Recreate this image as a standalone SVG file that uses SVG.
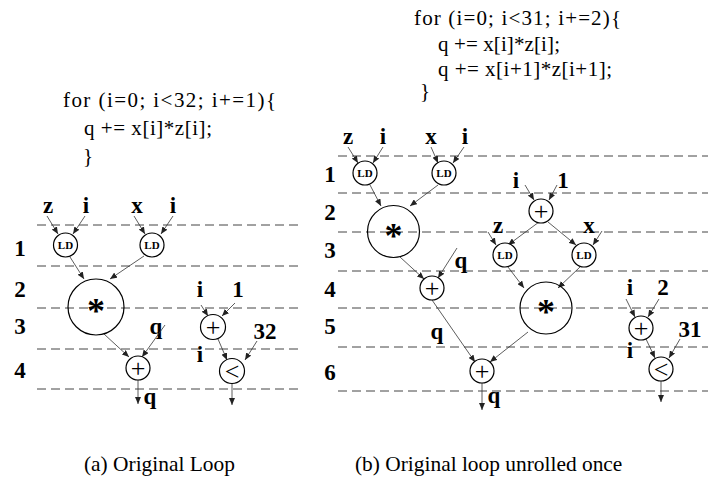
<svg xmlns="http://www.w3.org/2000/svg" width="708" height="481" viewBox="0 0 708 481" font-family="'Liberation Serif', 'Times New Roman', serif">
<style>
.code{font-family:"Liberation Serif","Times New Roman",serif;font-size:21px;fill:#000}
.cap{font-family:"Liberation Serif","Times New Roman",serif;font-size:21.4px;fill:#000}
.lb{font-family:"Liberation Serif","Times New Roman",serif;font-size:23px;font-weight:bold;fill:#000;text-anchor:middle}
.num{font-family:"Liberation Serif","Times New Roman",serif;font-size:23px;font-weight:bold;fill:#000;text-anchor:middle}
.nd{fill:#fff;stroke:#000;stroke-width:1.2}
.big{fill:none;stroke:#000;stroke-width:1.2}
.ld{font-family:"Liberation Serif","Times New Roman",serif;font-size:11px;font-weight:bold;text-anchor:middle;fill:#000}
.op{font-family:"Liberation Serif","Times New Roman",serif;font-size:26px;text-anchor:middle;fill:#000}
.star{font-family:"Liberation Serif","Times New Roman",serif;font-size:36px;font-weight:bold;text-anchor:middle;fill:#000}
.dash{stroke:#444;stroke-width:1;stroke-dasharray:9 5;fill:none}
.e{stroke:#333;stroke-width:0.8;fill:none;marker-end:url(#ah)}
</style>
<defs>
<marker id="ah" markerUnits="userSpaceOnUse" markerWidth="8" markerHeight="6" refX="7" refY="3" orient="auto">
<path d="M0,0 L7,3 L0,6 Z" fill="#222"/>
</marker>
</defs>
<rect width="708" height="481" fill="#fff"/>

<g id="code-a">
<text class="code" x="63" y="107" textLength="213" lengthAdjust="spacing">for (i=0; i&lt;32; i+=1){</text>
<text class="code" x="84" y="135" textLength="128" lengthAdjust="spacing">q += x[i]*z[i];</text>
<text class="code" x="83" y="163">}</text>
</g>
<g id="code-b">
<text class="code" x="414" y="25" textLength="207" lengthAdjust="spacing">for (i=0; i&lt;31; i+=2){</text>
<text class="code" x="438" y="51" textLength="122" lengthAdjust="spacing">q += x[i]*z[i];</text>
<text class="code" x="438" y="76" textLength="174" lengthAdjust="spacing">q += x[i+1]*z[i+1];</text>
<text class="code" x="420" y="98">}</text>
</g>

<g id="grid">
<line class="dash" x1="37" y1="225" x2="303" y2="225"/>
<line class="dash" x1="37" y1="266" x2="303" y2="266"/>
<line class="dash" x1="37" y1="308" x2="303" y2="308"/>
<line class="dash" x1="37" y1="349" x2="303" y2="349"/>
<line class="dash" x1="37" y1="389" x2="303" y2="389"/>
<line class="dash" x1="338" y1="156" x2="708" y2="156"/>
<line class="dash" x1="338" y1="193" x2="708" y2="193"/>
<line class="dash" x1="338" y1="232" x2="708" y2="232"/>
<line class="dash" x1="338" y1="271" x2="708" y2="271"/>
<line class="dash" x1="338" y1="308" x2="708" y2="308"/>
<line class="dash" x1="338" y1="347" x2="708" y2="347"/>
<line class="dash" x1="338" y1="391" x2="708" y2="391"/>
</g>

<g id="rows">
<text class="num" x="20" y="256">1</text>
<text class="num" x="20" y="297">2</text>
<text class="num" x="20" y="334">3</text>
<text class="num" x="20" y="378">4</text>
<text class="num" x="330" y="182">1</text>
<text class="num" x="330" y="220">2</text>
<text class="num" x="330" y="258">3</text>
<text class="num" x="330" y="297">4</text>
<text class="num" x="330" y="334">5</text>
<text class="num" x="330" y="380">6</text>
</g>

<g id="labels">
<text class="lb" x="48" y="213">z</text>
<text class="lb" x="86" y="213">i</text>
<text class="lb" x="137" y="213">x</text>
<text class="lb" x="173" y="213">i</text>
<text class="lb" x="156" y="334">q</text>
<text class="lb" x="150" y="404">q</text>
<text class="lb" x="200" y="297">i</text>
<text class="lb" x="238" y="297">1</text>
<text class="lb" x="265" y="339">32</text>
<text class="lb" x="200" y="362">i</text>

<text class="lb" x="348" y="144">z</text>
<text class="lb" x="383" y="144">i</text>
<text class="lb" x="431" y="144">x</text>
<text class="lb" x="465" y="144">i</text>
<text class="lb" x="461" y="268">q</text>
<text class="lb" x="437" y="339">q</text>
<text class="lb" x="494" y="403">q</text>
<text class="lb" x="516" y="188">i</text>
<text class="lb" x="563" y="188">1</text>
<text class="lb" x="498" y="233">z</text>
<text class="lb" x="589" y="233">x</text>
<text class="lb" x="630" y="295">i</text>
<text class="lb" x="663" y="295">2</text>
<text class="lb" x="690" y="337">31</text>
<text class="lb" x="630" y="358">i</text>
</g>

<g id="connectors">
<line class="e" x1="47" y1="216" x2="58" y2="234"/>
<line class="e" x1="85" y1="216" x2="73" y2="234"/>
<line class="e" x1="134" y1="216" x2="145" y2="234"/>
<line class="e" x1="173" y1="216" x2="161" y2="234"/>
<line class="e" x1="70" y1="257" x2="84" y2="279"/>
<line class="e" x1="144" y1="256" x2="110" y2="279"/>
<line class="e" x1="104" y1="334" x2="129" y2="357"/>
<line class="e" x1="165" y1="325" x2="142" y2="357"/>
<line class="e" x1="138" y1="380" x2="138" y2="404"/>
<line class="e" x1="201" y1="305" x2="208" y2="316"/>
<line class="e" x1="235" y1="303" x2="222" y2="316"/>
<line class="e" x1="218" y1="339" x2="227" y2="360"/>
<line class="e" x1="257" y1="341" x2="245" y2="360"/>
<line class="e" x1="232" y1="383" x2="232" y2="405"/>

<line class="e" x1="348" y1="147" x2="358" y2="163"/>
<line class="e" x1="383" y1="147" x2="373" y2="163"/>
<line class="e" x1="431" y1="147" x2="438" y2="163"/>
<line class="e" x1="464" y1="147" x2="453" y2="163"/>
<line class="e" x1="370" y1="185" x2="381" y2="206"/>
<line class="e" x1="438" y1="185" x2="410" y2="206"/>
<line class="e" x1="400" y1="257" x2="424" y2="279"/>
<line class="e" x1="457" y1="248" x2="438" y2="278"/>
<line class="e" x1="432" y1="300" x2="475" y2="362"/>
<line class="e" x1="528" y1="332" x2="490" y2="362"/>
<line class="e" x1="482" y1="383" x2="482" y2="410"/>
<line class="e" x1="525" y1="185" x2="534" y2="200"/>
<line class="e" x1="557" y1="185" x2="549" y2="200"/>
<line class="e" x1="539" y1="222" x2="508" y2="245"/>
<line class="e" x1="548" y1="222" x2="576" y2="245"/>
<line class="e" x1="488" y1="232" x2="496" y2="245"/>
<line class="e" x1="602" y1="231" x2="593" y2="245"/>
<line class="e" x1="508" y1="267" x2="524" y2="288"/>
<line class="e" x1="580" y1="267" x2="558" y2="288"/>
<line class="e" x1="626" y1="299" x2="635" y2="317"/>
<line class="e" x1="659" y1="299" x2="648" y2="317"/>
<line class="e" x1="646" y1="339" x2="655" y2="358"/>
<line class="e" x1="680" y1="339" x2="669" y2="358"/>
<line class="e" x1="661" y1="381" x2="661" y2="402"/>
</g>

<g id="a-ld1"><circle class="nd" cx="65.5" cy="245" r="12"/><text class="ld" x="65.5" y="249">LD</text></g>
<g id="a-ld2"><circle class="nd" cx="152" cy="245" r="12"/><text class="ld" x="152" y="249">LD</text></g>
<g id="a-mul"><circle class="big" cx="96" cy="307" r="28"/><text class="star" x="96" y="323">*</text></g>
<g id="a-add"><circle class="nd" cx="138" cy="368" r="12"/><text class="op" x="138" y="376.5">+</text></g>
<g id="a-inc"><circle class="nd" cx="213" cy="327" r="12.5"/><text class="op" x="213" y="335.5">+</text></g>
<g id="a-cmp"><circle class="nd" cx="232" cy="371" r="12.5"/><text class="op" x="232" y="379.5">&lt;</text></g>

<g id="b-ld1"><circle class="nd" cx="365" cy="173" r="12"/><text class="ld" x="365" y="177">LD</text></g>
<g id="b-ld2"><circle class="nd" cx="444" cy="173" r="12"/><text class="ld" x="444" y="177">LD</text></g>
<g id="b-mul1"><circle class="big" cx="393.5" cy="231.5" r="26"/><text class="star" x="393.5" y="247.5">*</text></g>
<g id="b-add1"><circle class="nd" cx="432" cy="288" r="12"/><text class="op" x="432" y="296.5">+</text></g>
<g id="b-inc1"><circle class="nd" cx="541" cy="211" r="12"/><text class="op" x="541" y="219.5">+</text></g>
<g id="b-ld3"><circle class="nd" cx="505" cy="255" r="12"/><text class="ld" x="505" y="259">LD</text></g>
<g id="b-ld4"><circle class="nd" cx="584" cy="255" r="12"/><text class="ld" x="584" y="259">LD</text></g>
<g id="b-mul2"><circle class="big" cx="546" cy="308" r="26"/><text class="star" x="546" y="324">*</text></g>
<g id="b-add2"><circle class="nd" cx="482" cy="371" r="12"/><text class="op" x="482" y="379.5">+</text></g>
<g id="b-inc2"><circle class="nd" cx="641" cy="328" r="12"/><text class="op" x="641" y="336.5">+</text></g>
<g id="b-cmp"><circle class="nd" cx="661" cy="369" r="12"/><text class="op" x="661" y="377.5">&lt;</text></g>

<g id="captions">
<text class="cap" x="84" y="471">(a) Original Loop</text>
<text class="cap" x="355" y="471">(b) Original loop unrolled once</text>
</g>
</svg>
